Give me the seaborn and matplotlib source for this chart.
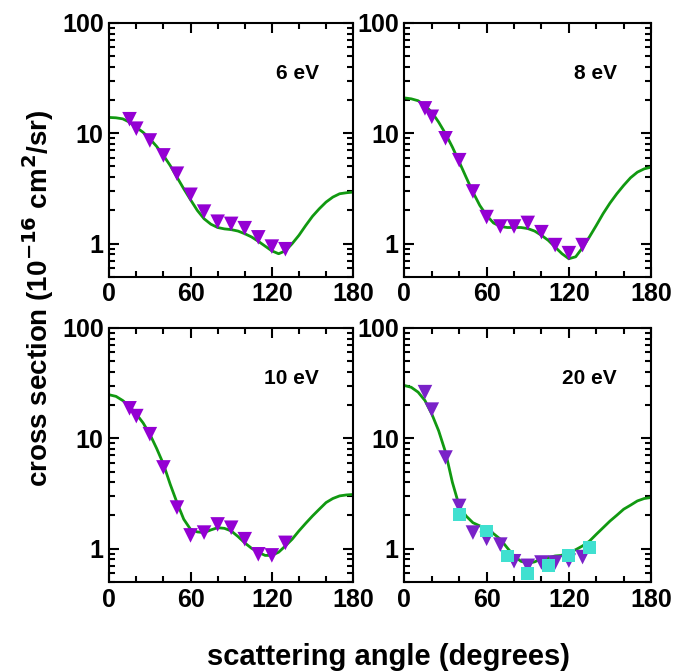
import numpy as np
import pandas as pd
import matplotlib
matplotlib.use("Agg")
import matplotlib.pyplot as plt
import seaborn as sns
from matplotlib.ticker import FixedLocator, LogLocator, NullFormatter

sns.set_theme(style="ticks")
plt.rcParams['font.family'] = ['Liberation Sans', 'DejaVu Sans']
plt.rcParams['font.weight'] = 'bold'
plt.rcParams['mathtext.default'] = 'bf'
plt.rcParams['text.color'] = 'black'
plt.rcParams['xtick.color'] = 'black'
plt.rcParams['ytick.color'] = 'black'

# ---- data ----
energies = ["6 eV", "8 eV", "10 eV", "20 eV"]

curve_angle = [0, 5, 10, 15, 20, 25, 30, 35, 40, 45, 50, 55, 60, 65, 70, 75, 80, 85, 90,
               95, 100, 105, 110, 115, 120, 125, 130, 135, 140, 145, 150, 155, 160, 165,
               170, 175, 180]
curve_6 = [13.9, 13.8, 13.5, 12.6, 11.3, 10.2, 8.9, 7.6, 6.3, 5.1, 4.0, 3.14, 2.5, 2.0,
           1.68, 1.5, 1.40, 1.36, 1.34, 1.30, 1.23, 1.15, 1.05, 0.95, 0.86, 0.81, 0.86,
           1.0, 1.19, 1.46, 1.77, 2.07, 2.38, 2.64, 2.83, 2.89, 2.93]
curve_8 = [20.9, 20.5, 19.7, 17.8, 15.5, 12.6, 9.9, 7.5, 5.5, 4.0, 2.93, 2.22, 1.80, 1.54,
           1.43, 1.40, 1.40, 1.40, 1.37, 1.30, 1.19, 1.07, 0.93, 0.81, 0.73, 0.76, 0.92,
           1.15, 1.46, 1.87, 2.33, 2.83, 3.37, 3.95, 4.44, 4.76, 4.93]
curve_10 = [24.8, 24.0, 22.0, 19.5, 16.6, 13.8, 10.9, 8.1, 5.85, 3.84, 2.62, 1.85, 1.50,
            1.42, 1.40, 1.48, 1.55, 1.53, 1.45, 1.29, 1.13, 1.01, 0.93, 0.87, 0.87, 0.93,
            1.06, 1.22, 1.45, 1.70, 1.98, 2.28, 2.62, 2.85, 3.01, 3.07, 3.10]
curve_20 = [30.1, 29.0, 26.2, 22.0, 16.6, 11.7, 7.5, 4.0, 2.44, 1.98, 1.72, 1.61, 1.50,
            1.37, 1.22, 1.02, 0.86, 0.77, 0.74, 0.76, 0.81, 0.83, 0.86, 0.87, 0.92, 0.98,
            1.06, 1.17, 1.35, 1.55, 1.78, 2.01, 2.28, 2.48, 2.71, 2.85, 2.91]

tri_angle = [15, 20, 30, 40, 50, 60, 70, 80, 90, 100, 110, 120, 130]
tri_6 = [13.4, 11.0, 8.6, 6.3, 4.3, 2.77, 1.95, 1.58, 1.51, 1.38, 1.14, 0.94, 0.89]
tri_8 = [16.8, 14.1, 9.0, 5.7, 2.97, 1.74, 1.43, 1.43, 1.54, 1.27, 0.97, 0.82, 0.97]
tri_10 = [18.7, 15.9, 10.9, 5.45, 2.36, 1.32, 1.40, 1.66, 1.55, 1.22, 0.89, 0.87, 1.13]
tri_20 = [26.2, 18.2, 6.7, 2.44, 1.40, 1.23, 1.09, 0.77, 0.70, 0.75, 0.75, 0.78, 0.84]

sq_angle = [40, 60, 75, 90, 105, 120, 135]
sq_20 = [2.05, 1.45, 0.86, 0.60, 0.70, 0.87, 1.02]

curves = [curve_6, curve_8, curve_10, curve_20]
tris = [tri_6, tri_8, tri_10, tri_20]
tri_colors = ["#9400D3", "#9400D3", "#9400D3", "#7A22C8"]

fig = plt.figure(figsize=(6.74, 6.72), dpi=100)
positions = [
    [0.162, 0.588, 0.362, 0.378],
    [0.600, 0.588, 0.366, 0.378],
    [0.162, 0.134, 0.362, 0.378],
    [0.600, 0.134, 0.366, 0.378],
]

for i, pos in enumerate(positions):
    ax = fig.add_axes(pos)
    df_c = pd.DataFrame({"angle": curve_angle, "xs": curves[i]})
    sns.lineplot(data=df_c, x="angle", y="xs", ax=ax, color="#119911", lw=2, sort=True)
    df_t = pd.DataFrame({"angle": tri_angle, "xs": tris[i]})
    sns.scatterplot(data=df_t, x="angle", y="xs", ax=ax, marker="v", s=110,
                    color=tri_colors[i], edgecolor="none", zorder=3)
    if i == 3:
        df_s = pd.DataFrame({"angle": sq_angle, "xs": sq_20})
        sns.scatterplot(data=df_s, x="angle", y="xs", ax=ax, marker="s", s=85,
                        color="#40E0D0", edgecolor="none", zorder=4)

    ax.set_yscale("log")
    ax.set_xlim(0, 180)
    ax.set_ylim(0.5, 100)
    ax.xaxis.set_major_locator(FixedLocator([0, 60, 120, 180]))
    ax.xaxis.set_minor_locator(FixedLocator([0, 20, 40, 60, 80, 100, 120, 140, 160, 180]))
    ax.yaxis.set_major_locator(FixedLocator([1, 10, 100]))
    ax.set_yticklabels(["1", "10", "100"])
    ax.yaxis.set_minor_locator(LogLocator(base=10, subs=np.arange(2, 10)))
    ax.yaxis.set_minor_formatter(NullFormatter())
    ax.tick_params(which="both", direction="in", top=True, right=True, width=1.5,
                   labelsize=18, pad=4, colors="black")
    ax.tick_params(which="major", length=7)
    ax.tick_params(which="minor", length=4)
    for lab in ax.get_xticklabels() + ax.get_yticklabels():
        lab.set_fontweight("bold")
    for sp in ax.spines.values():
        sp.set_linewidth(1.5)
        sp.set_color("black")
    ax.set_xlabel("")
    ax.set_ylabel("")
    ax.text(0.86, 0.80, energies[i], transform=ax.transAxes, ha="right", va="center",
            fontsize=15, fontweight="bold", color="black")

fig.text(0.576, 0.022, "scattering angle (degrees)", ha="center", va="center",
         fontsize=21, fontweight="bold", color="black")
fig.text(0.056, 0.556, r"cross section (10$^{-16}$ cm$^{2}$/sr)", ha="center", va="center",
         rotation=90, fontsize=20, fontweight="bold", color="black")

fig.savefig("out.png", dpi=100)
